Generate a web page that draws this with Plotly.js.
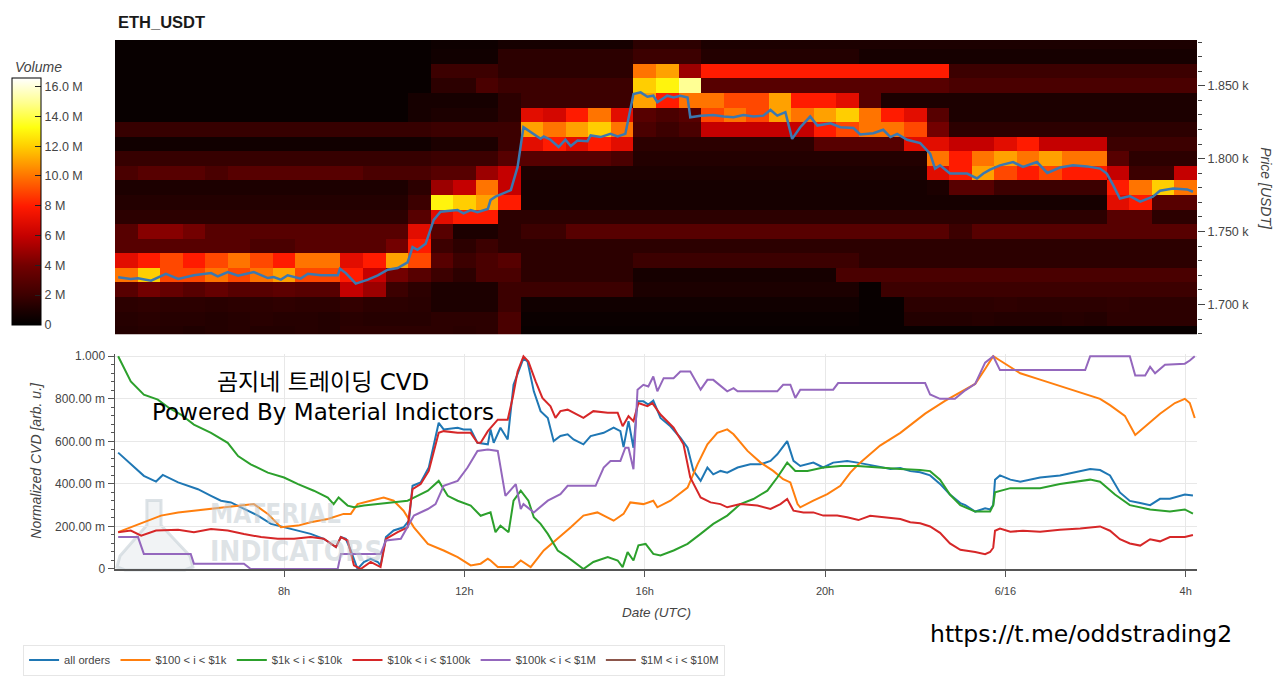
<!DOCTYPE html>
<html><head><meta charset="utf-8">
<script src="https://cdn.plot.ly/plotly-3.0.1.min.js"></script>
<style>html,body{margin:0;padding:0;background:#fff;} #chart{width:1280px;height:688px;}</style>
</head><body><div id="chart"></div>
<script>
// ---------- tick labels ----------
const timeTickVals = [8,12,16,20,24,28];
const timeTickText = ['8h','12h','16h','20h','6/16','4h'];
const priceTickVals = [1700,1750,1800,1850];
const priceTickText = ['1.700 k','1.750 k','1.800 k','1.850 k'];
const cvdTickVals = [0,0.2,0.4,0.6,0.8,1.0];
const cvdTickText = ['0','200.00 m','400.00 m','600.00 m','800.00 m','1.000'];
const volTickVals = [0,2,4,6,8,10,12,14,16];
const volTickText = ['0','2 M','4 M','6 M','8 M','10.0 M','12.0 M','14.0 M','16.0 M'];

// ---------- heatmap: price bins (USDT) and volume (M) per 30-min column starting 04:15 ----------
const priceBins = [1680,1690,1700,1710,1720,1730,1740,1750,1760,1770,1780,1790,1800,1810,1820,1830,1840,1850,1860,1870,1880];
const colStartHour = 4.5, colStepHour = 0.5;
const vol1680 = [1.2,1.3,1.2,1.1,1.2,1.3,1.2,1.2,1.3,1.2,1.5,1.5, 1.5,1.5,1.5,1.4,1.5,2.5,0.3,0.3,0.3,0.3,0.3,0.3, 0.3,0.3,0.3,0.3,0.3,0.3,0.3,0.3,0.3,0.3,0.3,0.3, 0.3,0.3,0.3,0.3,0.3,0.3,0.3,0.3,0.3,0.3,0.3,0.3];
const vol1690 = [1.3,1.4,1.3,1.3,1.2,1.3,1.4,1.3,1.3,1.2,1.4,1.3, 1.3,1.3,1.5,1.5,1.5,2.5,0.4,0.4,0.4,0.4,0.4,0.4, 0.4,0.4,0.4,0.4,0.4,0.4,0.4,0.4,0.4,0.3,0.3,1.2, 1.2,1.2,1.3,1.2,1.2,1.2,1.3,1.2,1.5,1.5,1.5,1.5];
const vol1700 = [1.5,1.6,1.5,1.5,1.4,1.5,1.5,1.6,1.5,1.5,1.7,1.5, 1.5,1.4,1,1,1,2,0.6,0.6,0.6,0.6,0.6,0.6, 0.6,0.6,0.6,0.6,0.6,0.6,0.6,0.6,0.6,0.3,0.3,1.5, 1.5,1.5,1.5,1.6,1.5,1.5,1.5,1.5,1.6,1.5,1.5,1.5];
const vol1710 = [3,4,3.5,3,3.5,3,3,3.2,3,3,6,5, 2,1.5,1,1,1,2,2,2,2,2,2,1, 1,1,1,1,1,1,1,1,1,0.3,2,2, 2,2,2,2,2,2,2,2,2,2,2,2];
const vol1720 = [10,12,9,9,10,9,10,11,9,9,8,6, 4,3,2,1.5,2.5,2.5,1.5,1.5,1.5,1.5,1.5,0.8, 0.8,0.8,0.8,0.8,0.8,0.8,0.8,0.8,2.5,2.5,2.5,2.5, 2.5,2.5,2.5,2.5,2.5,2.5,2.5,2.5,2.5,2.5,2.5,2.5];
const vol1730 = [7,8,9,8,9,10,9,8,10,10,7,8, 11,9,3,2,2.5,3,1.5,1.5,1.5,1.5,1.5,2, 2,2,2,2,2,2,2,2,2,1.5,1.5,1.5, 1.5,1.5,1.5,1.5,1.5,1.5,1.5,1.5,1.5,1.5,1.5,1.5];
const vol1740 = [3,3,3,3,3,3,2.5,2.5,3,3,3,3, 4,8,2,1.5,2,1.5,1.5,1.5,1.5,1.5,1.5,1.5, 1.5,1.5,1.5,1.5,1.5,1.5,1.5,1.5,1.5,1.5,1.5,1.5, 1.5,1.5,1.5,1.5,1.5,1.5,1.5,1.5,1.5,1.5,1.5,1.5];
const vol1750 = [3,4.5,4.5,4,3,3,3,3,3,3,3,3, 3,7,3,1,1,1.5,2,2,3,3,3,3, 3,3,3,3,3,3,3,3,3,3,3,3, 3,2,3,3,3,3,3,3,3,3,3,3];
const vol1760 = [1.5,1.5,1.5,1.5,1.5,1.5,1.5,1.5,1.5,1.5,1.5,1.5, 1.5,3,7,8,8,1.5,1.5,1.5,1.5,1.5,1.5,1.5, 1.5,1.5,1.5,1.5,1.5,1.5,1.5,1.5,1.5,1.5,1.5,1.5, 1.5,1.5,1.5,1.5,1.5,1.5,1.5,1.5,3,3,1.5,1.5];
const vol1770 = [1.2,1.2,1.2,1.2,1.2,1.2,1.2,1.2,1.2,1.2,1.2,1.2, 1.2,2,13,12,11,8,0.8,0.8,0.8,0.8,0.8,0.8, 0.8,0.8,0.8,0.8,0.8,0.8,0.8,0.8,0.8,0.8,0.8,0.8, 0.8,0.8,0.8,0.8,0.8,0.8,0.8,0.8,7,8,3,3];
const vol1780 = [1,1,1,1,1,1,1,1,1,1,1,1, 1,1.5,5,6,10,6,0.8,0.8,0.8,0.8,0.8,0.8, 0.8,0.8,0.8,0.8,0.8,0.8,0.8,0.8,0.8,0.8,0.8,0.8, 1,3,3,2,2,2,2,2,8,10,12,10];
const vol1790 = [2.5,3,3,3,2.5,3,3,3,3,3,3,2.5, 2.5,2.5,3,3,5,6,1,1,1,1,1,1, 1,1,1,1,1,1,1,1,1,1,1,1, 7,8,11,9,8,9,8,8,6,2,2,6];
const vol1800 = [1.8,1.8,1.8,1.8,1.8,1.8,1.8,1.8,1.8,1.8,1.8,1.8, 1.8,1.8,2,2,2,3,3,3,3,3,2.5,1.2, 1.2,1.2,1.2,1.2,1.2,1.2,1.2,1.2,1.2,1.2,1.2,1.2, 10,8,10,11,10,11,10,10,3,1.5,1.5,1.5];
const vol1810 = [0.6,0.6,0.6,0.6,0.6,0.6,0.6,0.6,0.6,0.6,0.6,0.6, 0.6,0.6,1,1,1,2,7,8,7,8,7,1.5, 1.5,1.5,1.5,1.5,1.5,1.5,1.5,3,3,3,3,7, 7,6,6,7,8,6,6,6,2,2,2,2];
const vol1820 = [1.8,1.8,1.8,1.8,1.8,1.8,1.8,1.8,1.8,1.8,1.8,1.8, 1.8,1.8,2,2,2,2,11,10,11,12,10,2.5, 2,2.5,6,6,6,6,6,8,9,10,10,9, 4,1.5,1.5,1.5,1.5,1.5,1.5,1.5,1.5,1.5,1.5,1.5];
const vol1830 = [0.3,0.3,0.3,0.3,0.3,0.3,0.3,0.3,0.3,0.3,0.3,0.3, 0.3,0.8,1,1,1,1.5,7,6.5,8,10,7,3, 2.5,3,9,10,9,11,10,11,12,10,8,7, 3,1,1,1,1,1,1,1,1,1,1,1];
const vol1840 = [0.3,0.3,0.3,0.3,0.3,0.3,0.3,0.3,0.3,0.3,0.3,0.3, 0.3,0.8,0.8,0.8,0.8,1.5,2,2,2,2,2,11, 8,10,10,9,9,11,8,8,7,3,1,1, 1,1,1,1,1,1,1,1,1,1,1,1];
const vol1850 = [0.3,0.3,0.3,0.3,0.3,0.3,0.3,0.3,0.3,0.3,0.3,0.3, 0.3,0.3,1.5,1.5,2.5,2,2,2,2,2,2,12, 13,15,3,3,3,3,3,3,3,3,3,3, 3,2.5,2.5,2.5,2.5,2.5,2.5,2.5,2.5,2.5,2.5,2.5];
const vol1860 = [0.3,0.3,0.3,0.3,0.3,0.3,0.3,0.3,0.3,0.3,0.3,0.3, 0.3,0.3,2,2,2,1.5,1.5,1.5,1.5,1.5,1.5,10, 11,5,8,8,8,8,8,8,8,8,8,8, 8,2,2,2,2,2,2,2,2,2,2,2];
const vol1870 = [0.3,0.3,0.3,0.3,0.3,0.3,0.3,0.3,0.3,0.3,0.3,0.3, 0.3,0.3,0.6,0.6,0.6,1.5,1.5,1.5,1.5,1.5,1.5,2, 2,2,1.2,1.2,1.2,1.2,1.2,1.2,1.2,0.8,0.8,0.8, 0.8,0.8,0.8,0.8,0.8,0.8,0.8,0.8,0.8,0.8,0.8,0.8];
const vol1880 = [0.3,0.3,0.3,0.3,0.3,0.3,0.3,0.3,0.3,0.3,0.3,0.3, 0.3,0.3,0.5,0.5,0.5,0.8,0.8,0.8,0.8,0.8,0.8,1.5, 1.5,1.5,1,1,1,1,1,1,1,1,1,1, 1,1,1,1,1,1,1,1,1,1,1,1];

// ---------- price line (hours since 6/15 00:00 UTC, USDT) ----------
const priceHours = [4.32,4.60,4.76,5.05,5.38,5.65,6.00,6.38,6.53,6.75,6.98,7.33,7.64,7.77,7.93,8.08,8.37,8.53,8.82,9.19,9.24,9.37,9.59,9.86,10.08,10.30,10.52,10.74,10.85,10.96,11.14,11.32,11.47,11.85,11.98,12.14,12.29,12.52,12.58,12.69,13.03,13.18,13.31,13.47,13.69,13.76,13.91,14.09,14.24,14.36,14.51,14.73,14.80,15.02,15.24,15.40,15.57,15.75,15.91,16.06,16.19,16.28,16.50,16.64,16.79,16.95,17.01,17.24,17.52,17.75,17.97,18.19,18.41,18.63,18.79,18.94,19.12,19.27,19.45,19.67,19.83,20.12,20.34,20.63,20.78,21.07,21.29,21.45,21.60,21.82,22.11,22.33,22.44,22.55,22.77,23.15,23.37,23.51,23.66,23.88,24.17,24.39,24.70,24.93,25.21,25.50,25.81,26.10,26.25,26.39,26.54,26.76,26.99,27.27,27.43,27.72,28.03,28.16];
const priceUSDT = [1718.7,1717.5,1718,1716.3,1721,1717.5,1720,1721.5,1719.3,1722.2,1719.7,1722.2,1718.1,1718.8,1717,1720,1717.7,1721,1720,1720,1724.5,1721.5,1714.3,1717,1720,1723.8,1725,1728.8,1739.3,1737.5,1741.6,1758,1763.6,1764.7,1762.5,1764.7,1763.2,1765.5,1771.6,1773.9,1778.4,1794.3,1821.6,1818.2,1813.6,1815.2,1813,1808,1813,1808.7,1812.5,1812,1815.9,1814.8,1817,1815.2,1817,1844.3,1845.5,1842.5,1843.2,1838.7,1843.2,1842,1843.2,1842,1828.4,1829.5,1830,1828.9,1828.4,1830,1828.9,1829.5,1833.4,1829.5,1831.9,1813.6,1821.6,1828.9,1822.7,1824.3,1821.6,1821,1816.6,1817.5,1819.8,1814.8,1817,1813,1810.7,1803.4,1793.2,1795.4,1789.8,1789.8,1786.4,1789.8,1792.5,1795.4,1797.7,1794.3,1797.7,1790.2,1793.9,1795.4,1794.7,1793.2,1789.8,1781.8,1772.7,1774.3,1770.5,1773.9,1778,1779.5,1778.9,1777.3];

// ---------- normalized CVD series ----------
const allHours = [4.32,4.60,4.89,5.16,5.31,5.65,5.82,6.09,6.38,6.60,6.82,7.11,7.42,7.71,8.00,8.31,8.59,8.88,9.15,9.26,9.37,9.48,9.63,9.77,9.92,10.08,10.14,10.26,10.43,10.65,10.77,10.85,11.03,11.21,11.43,11.54,11.85,11.98,12.14,12.29,12.52,12.58,12.65,12.80,12.96,13.09,13.31,13.40,13.54,13.69,13.85,13.98,14.13,14.29,14.42,14.64,14.80,15.09,15.31,15.46,15.53,15.64,15.75,15.84,15.97,16.08,16.19,16.35,16.57,16.79,16.95,17.08,17.24,17.39,17.52,17.68,17.83,18.06,18.34,18.57,18.79,18.94,19.16,19.30,19.45,19.74,19.96,20.18,20.49,20.72,21.00,21.22,21.45,21.67,21.89,22.11,22.33,22.55,22.77,23.00,23.11,23.33,23.55,23.66,23.73,23.77,23.88,24.11,24.33,24.77,25.21,25.66,25.88,26.10,26.32,26.54,26.76,26.99,27.21,27.43,27.65,27.98,28.16];
const allCvd = [0.547,0.492,0.438,0.411,0.442,0.407,0.396,0.375,0.344,0.321,0.313,0.282,0.251,0.212,0.196,0.181,0.165,0.142,0.103,0.150,0.142,0.087,0.0,0.033,0.048,0.033,0.017,0.150,0.181,0.196,0.227,0.391,0.407,0.477,0.687,0.656,0.664,0.656,0.656,0.593,0.586,0.656,0.593,0.664,0.609,0.866,0.99,0.975,0.835,0.742,0.710,0.601,0.625,0.633,0.609,0.586,0.625,0.640,0.664,0.648,0.573,0.695,0.570,0.788,0.788,0.773,0.791,0.710,0.671,0.617,0.570,0.461,0.414,0.477,0.445,0.461,0.453,0.477,0.492,0.492,0.508,0.539,0.601,0.508,0.484,0.5,0.477,0.5,0.508,0.5,0.49,0.48,0.47,0.475,0.46,0.455,0.44,0.40,0.35,0.31,0.30,0.27,0.285,0.28,0.30,0.42,0.44,0.42,0.41,0.43,0.44,0.46,0.47,0.465,0.44,0.36,0.32,0.31,0.30,0.33,0.33,0.35,0.345];

const orangeHours = [4.32,4.60,4.89,5.27,5.65,6.00,6.38,6.75,7.11,7.33,7.64,7.93,8.31,8.59,8.97,9.32,9.48,9.63,9.92,10.21,10.43,10.65,10.88,11.19,11.54,11.85,12.14,12.36,12.52,12.58,12.74,13.09,13.25,13.47,13.76,14.07,14.36,14.64,14.95,15.31,15.53,15.68,15.97,16.19,16.28,16.57,16.95,17.17,17.39,17.61,17.83,17.97,18.28,18.57,18.85,19.07,19.23,19.39,19.45,19.74,20.05,20.34,20.56,20.74,21.22,21.67,22.22,22.66,23.00,23.33,23.55,23.73,23.88,24.11,24.33,24.77,25.21,25.66,26.10,26.32,26.65,26.88,27.10,27.43,27.76,27.98,28.09,28.20];
const orangeCvd = [0.173,0.196,0.22,0.251,0.266,0.274,0.282,0.290,0.298,0.305,0.259,0.196,0.204,0.22,0.235,0.259,0.259,0.305,0.321,0.336,0.321,0.274,0.196,0.118,0.087,0.056,0.017,0.025,0.048,0.04,0.009,0.009,0.04,0.009,0.087,0.142,0.196,0.251,0.266,0.227,0.259,0.313,0.305,0.321,0.290,0.321,0.383,0.492,0.586,0.640,0.656,0.633,0.555,0.5,0.461,0.422,0.407,0.305,0.290,0.321,0.352,0.391,0.453,0.492,0.58,0.64,0.73,0.79,0.83,0.87,0.94,1.0,0.98,0.95,0.92,0.89,0.86,0.83,0.80,0.77,0.72,0.63,0.67,0.73,0.78,0.80,0.78,0.71];

const greenHours = [4.32,4.60,4.89,5.20,5.45,5.71,6.00,6.38,6.75,6.98,7.26,7.64,8.00,8.31,8.66,8.97,9.10,9.21,9.41,9.55,9.77,10.08,10.43,10.74,10.88,11.19,11.43,11.63,11.85,12.14,12.36,12.58,12.69,12.80,12.98,13.09,13.25,13.42,13.54,13.69,13.85,14.07,14.29,14.64,14.86,15.18,15.40,15.51,15.62,15.75,15.86,16.02,16.19,16.35,16.64,16.95,17.24,17.52,17.83,18.12,18.41,18.72,18.94,19.16,19.34,19.61,19.96,20.34,20.72,21.22,21.67,22.11,22.33,22.55,22.77,23.00,23.33,23.66,23.73,23.77,24.11,24.77,25.21,25.88,26.10,26.43,26.76,27.21,27.65,27.98,28.16];
const greenCvd = [1.0,0.882,0.819,0.796,0.757,0.726,0.679,0.640,0.593,0.531,0.492,0.453,0.430,0.399,0.368,0.336,0.305,0.336,0.298,0.290,0.298,0.305,0.313,0.321,0.336,0.368,0.414,0.344,0.321,0.298,0.25,0.266,0.173,0.204,0.173,0.321,0.368,0.321,0.243,0.212,0.165,0.087,0.056,0.0,0.033,0.056,0.04,0.009,0.079,0.04,0.111,0.118,0.071,0.064,0.087,0.118,0.165,0.212,0.251,0.305,0.329,0.368,0.430,0.5,0.461,0.461,0.477,0.484,0.484,0.475,0.47,0.465,0.46,0.42,0.35,0.30,0.27,0.27,0.30,0.36,0.38,0.38,0.40,0.42,0.41,0.35,0.30,0.28,0.27,0.28,0.26];

const redHours = [4.32,4.60,4.83,5.16,5.65,6.00,6.38,6.75,7.11,7.49,7.86,8.22,8.59,8.88,9.15,9.26,9.41,9.55,9.70,9.92,10.14,10.26,10.52,10.74,10.85,11.03,11.21,11.43,11.54,11.85,12.14,12.29,12.36,12.52,12.74,12.96,13.07,13.18,13.31,13.42,13.58,13.73,13.91,14.02,14.13,14.29,14.64,14.86,15.18,15.40,15.51,15.64,15.75,15.86,16.06,16.17,16.35,16.64,16.86,17.01,17.24,17.46,17.68,17.83,18.12,18.50,18.79,19.01,19.16,19.30,19.52,19.74,19.96,20.27,20.49,20.74,21.00,21.22,21.45,21.67,21.89,22.11,22.33,22.55,22.77,23.00,23.33,23.55,23.66,23.73,23.77,23.88,24.11,24.39,24.77,25.21,25.66,25.88,26.10,26.32,26.54,26.76,26.99,27.21,27.43,27.65,27.98,28.16];
const redCvd = [0.173,0.181,0.157,0.181,0.185,0.173,0.188,0.181,0.165,0.150,0.142,0.142,0.150,0.142,0.103,0.150,0.134,0.017,0.0,0.033,0.009,0.142,0.173,0.196,0.375,0.399,0.461,0.640,0.648,0.640,0.640,0.593,0.593,0.648,0.702,0.702,0.804,0.928,1.0,0.975,0.882,0.804,0.765,0.710,0.742,0.749,0.710,0.742,0.734,0.734,0.671,0.718,0.695,0.780,0.765,0.780,0.726,0.664,0.586,0.430,0.336,0.313,0.305,0.290,0.305,0.298,0.282,0.305,0.329,0.274,0.266,0.266,0.251,0.251,0.243,0.230,0.25,0.245,0.24,0.235,0.22,0.215,0.20,0.17,0.12,0.09,0.08,0.07,0.08,0.10,0.18,0.19,0.175,0.18,0.175,0.185,0.19,0.195,0.20,0.18,0.14,0.12,0.11,0.14,0.13,0.15,0.15,0.16];

const purpleHours = [4.32,4.76,4.89,5.11,5.93,6.00,7.11,7.26,9.19,9.26,10.14,10.26,10.59,10.88,11.19,11.36,11.54,11.85,12.07,12.29,12.52,12.74,12.91,13.14,13.25,13.31,13.54,13.85,14.13,14.29,14.91,15.09,15.24,15.46,15.57,15.64,15.75,15.84,15.97,16.08,16.19,16.28,16.42,16.64,16.79,17.01,17.24,17.39,17.52,17.83,17.97,18.06,18.94,19.07,19.23,19.34,19.45,20.18,20.29,22.22,22.33,22.55,22.88,23.11,23.33,23.55,23.73,23.88,25.77,25.88,26.76,26.88,27.10,27.21,27.32,27.54,27.98,28.09,28.20];
const purpleCvd = [0.150,0.150,0.071,0.071,0.071,0.025,0.025,0.0,0.0,0.071,0.071,0.134,0.142,0.251,0.282,0.305,0.391,0.414,0.477,0.555,0.562,0.555,0.344,0.399,0.282,0.305,0.266,0.321,0.352,0.391,0.391,0.477,0.508,0.508,0.570,0.570,0.469,0.843,0.866,0.858,0.905,0.835,0.897,0.897,0.928,0.928,0.843,0.889,0.889,0.835,0.850,0.835,0.835,0.866,0.866,0.804,0.843,0.843,0.874,0.874,0.82,0.80,0.80,0.84,0.87,0.97,1.0,0.935,0.935,1.0,1.0,0.91,0.91,0.95,0.92,0.96,0.965,0.98,1.0];

// $1M < i < $10M: no visible values in the chart (legend entry only)
const brownHours = [null];
const brownCvd = [null];

const seriesNames = ['all orders','$100 < i < $1k','$1k < i < $10k','$10k < i < $100k','$100k < i < $1M','$1M < i < $10M'];
const seriesColors = ['#1f77b4','#ff7f0e','#2ca02c','#d62728','#9467bd','#8c564b'];

// ---------- build ----------
const volumeZ = [vol1680,vol1690,vol1700,vol1710,vol1720,vol1730,vol1740,vol1750,vol1760,vol1770,vol1780,vol1790,vol1800,vol1810,vol1820,vol1830,vol1840,vol1850,vol1860,vol1870,vol1880];

const fireScale = [
  [0.00,'#000000'],[0.06,'#1c0000'],[0.12,'#3c0000'],[0.24,'#720000'],
  [0.36,'#c40000'],[0.48,'#ff1a00'],[0.60,'#ff7200'],[0.72,'#ffcc00'],
  [0.80,'#ffff10'],[0.90,'#ffff90'],[1.00,'#ffffff']
];

const FONT = '"Liberation Sans", Arial, Helvetica, sans-serif';
const TXT = '"DejaVu Sans", "Noto Sans CJK KR", sans-serif';
const AX = '#444';

const traces = [];
traces.push({
  type:'heatmap', x0:colStartHour, dx:colStepHour, y:priceBins, z:volumeZ,
  zmin:0, zmax:16.6, colorscale:fireScale, zsmooth:false, hoverinfo:'skip',
  xaxis:'x', yaxis:'y', showlegend:false,
  colorbar:{
    x:-0.0951, xanchor:'left', xpad:0, y:0.9286, yanchor:'top', ypad:0,
    thickness:29, thicknessmode:'pixels', len:247, lenmode:'pixels',
    outlinewidth:1, outlinecolor:'#000',
    tickmode:'array', tickvals:volTickVals, ticktext:volTickText,
    ticks:'inside', ticklen:6, tickcolor:'#222', tickwidth:1,
    tickfont:{family:FONT, size:12.5, color:AX}
  }
});
traces.push({
  type:'scatter', mode:'lines', x:priceHours, y:priceUSDT,
  line:{color:'#3b78b0', width:2.5}, xaxis:'x', yaxis:'y', showlegend:false, hoverinfo:'skip'
});
const cvdX = [allHours, orangeHours, greenHours, redHours, purpleHours, brownHours];
const cvdY = [allCvd, orangeCvd, greenCvd, redCvd, purpleCvd, brownCvd];
for (let i = 0; i < seriesNames.length; i++) {
  traces.push({
    type:'scatter', mode:'lines', name:seriesNames[i], x:cvdX[i], y:cvdY[i],
    line:{color:seriesColors[i], width:2}, xaxis:'x2', yaxis:'y2', hoverinfo:'skip', showlegend:true
  });
}

function px(x){ return (x-114)/1083; }
function py(y){ return (572-y)/532; }

// faint flask logo of the watermark (pixel outline -> paper coords)
const flaskPts = [[146,503],[160,503],[160,528],[189,559],[192,570],[184,573],[124,573],[116,570],[119,559],[146,528]];
const flaskPath = 'M ' + flaskPts.map(p => px(p[0]).toFixed(4) + ',' + py(p[1]).toFixed(4)).join(' L ') + ' Z';

const annotations = [
  {text:'<b>ETH_USDT</b>', x:px(115), y:py(22), xanchor:'left', yanchor:'middle', font:{family:FONT, size:16.5, color:'#1a1a1a'}},
  {text:'<i>Volume</i>', x:px(12), y:py(67), xanchor:'left', yanchor:'middle', font:{family:FONT, size:14, color:AX}},
  {text:'<i>Price [USDT]</i>', x:px(1266), y:py(190), xanchor:'center', yanchor:'middle', textangle:90, font:{family:FONT, size:14, color:AX}},
  {text:'<i>Normalized CVD [arb. u.]</i>', x:px(35), y:py(463), xanchor:'center', yanchor:'middle', textangle:-90, font:{family:FONT, size:14, color:AX}},
  {text:'<i>Date (UTC)</i>', x:px(656), y:py(616), xanchor:'center', yanchor:'middle', font:{family:FONT, size:13.5, color:AX}},
  {text:'<b>MATERIAL</b>', x:px(207), y:py(517), xanchor:'left', yanchor:'middle', font:{family:'"DejaVu Sans Condensed", "Liberation Sans Narrow", "Liberation Sans", sans-serif', size:26, color:'rgba(190,199,206,0.5)'}},
  {text:'<b>INDICATORS</b>', x:px(207), y:py(554), xanchor:'left', yanchor:'middle', font:{family:'"DejaVu Sans Condensed", "Liberation Sans Narrow", "Liberation Sans", sans-serif', size:28, color:'rgba(190,199,206,0.5)'}},
  {text:'곰지네 트레이딩 CVD<br>Powered By Material Indictors', x:px(322), y:py(399), xanchor:'center', yanchor:'middle', align:'center', font:{family:TXT, size:23, color:'#000'}},
  {text:'https://t.me/oddstrading2', x:px(1081), y:py(637), xanchor:'center', yanchor:'middle', font:{family:TXT, size:23.5, color:'#000'}}
].map(a => Object.assign({xref:'paper', yref:'paper', showarrow:false}, a));

const layout = {
  width:1280, height:688,
  margin:{l:114, r:83, t:40, b:116, pad:0},
  paper_bgcolor:'#ffffff', plot_bgcolor:'rgba(0,0,0,0)',
  font:{family:FONT, color:AX, size:12},
  showlegend:true,
  legend:{orientation:'h', x:px(22), xanchor:'left', y:py(648), yanchor:'top',
          bgcolor:'#ffffff', bordercolor:'#e6e6e6', borderwidth:1,
          font:{family:FONT, size:11.2, color:AX}, itemwidth:30, traceorder:'normal'},
  xaxis:{domain:[0,1], range:[4.25,28.25], anchor:'y', showticklabels:false, ticks:'',
         showgrid:false, zeroline:false, showline:false},
  yaxis:{domain:[py(336),1], range:[1679.5,1881.4], anchor:'x', side:'right',
         tickmode:'array', tickvals:priceTickVals, ticktext:priceTickText,
         ticks:'outside', ticklen:7, tickcolor:AX, tickwidth:1,
         showgrid:false, zeroline:false, showline:false,
         tickfont:{family:FONT, size:12.5, color:AX},
         minor:{tickmode:'linear', tick0:1680, dtick:10, ticks:'outside', ticklen:4, tickcolor:AX, showgrid:false}},
  xaxis2:{domain:[0,1], range:[4.25,28.25], anchor:'y2',
          tickmode:'array', tickvals:timeTickVals, ticktext:timeTickText,
          ticks:'outside', ticklen:6, tickcolor:'#555', tickwidth:1, ticklabelstandoff:5,
          showline:true, linecolor:'#555', linewidth:2,
          showgrid:true, gridcolor:'#e8e8e8', gridwidth:1, zeroline:false,
          tickfont:{family:FONT, size:11, color:AX}},
  yaxis2:{domain:[0,py(355.9)], range:[0,1.01], anchor:'x2',
          tickmode:'array', tickvals:cvdTickVals, ticktext:cvdTickText,
          ticks:'outside', ticklen:6, tickcolor:'#555', tickwidth:1,
          showline:true, linecolor:'#555', linewidth:1.5,
          showgrid:true, gridcolor:'#e8e8e8', gridwidth:1, zeroline:false,
          tickfont:{family:FONT, size:12, color:AX},
          minor:{tickmode:'linear', tick0:0, dtick:0.04, ticks:'outside', ticklen:3, tickcolor:'#555', showgrid:false}},
  shapes:[{type:'path', xref:'paper', yref:'paper', layer:'below', path:flaskPath,
           fillcolor:'rgba(215,222,227,0.35)', line:{color:'rgba(205,213,219,0.7)', width:3}}],
  annotations:annotations
};

Plotly.newPlot('chart', traces, layout, {staticPlot:true, displayModeBar:false});
</script></body></html>
